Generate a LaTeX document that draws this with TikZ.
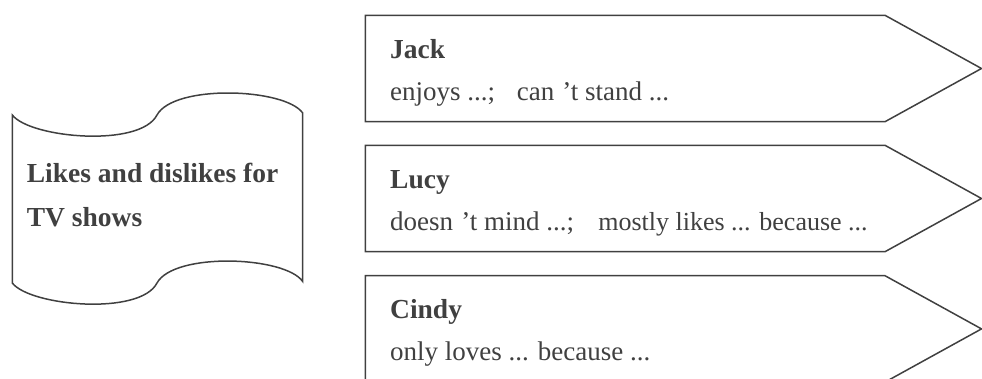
\documentclass[tikz,border=0pt]{standalone}
\usepackage{fontspec}
\setmainfont{Liberation Serif}
\definecolor{ink}{RGB}{64,64,64}
\begin{document}
\begin{tikzpicture}[x=1pt,y=-1pt,
  outline/.style={draw=ink,line width=1.5pt,line join=miter},
  head/.style={anchor=base west,inner sep=0pt,text=ink,font=\fontsize{27.5}{44}\selectfont\bfseries},
  body/.style={anchor=base west,inner sep=0pt,text=ink,font=\fontsize{27}{44}\selectfont}]
\useasboundingbox (0,0) rectangle (982,378);
\clip (0,0) rectangle (982,378);
% scroll shape
\draw[outline] (12.3,115) .. controls (30,138) and (140,148) .. (157,115)
  .. controls (174,84) and (285,88) .. (302.7,113) -- (302.7,281.5)
  .. controls (285,256) and (174,252) .. (157,283)
  .. controls (140,316) and (30,306) .. (12.3,283) -- cycle;
\node[head] (title1) at (26.7,182.7) {Likes and dislikes for};
\node[head] (title2) at (26.7,226.7) {TV shows};
% Jack
\draw[outline] (365.3,15.3) -- (885,15.3) -- (981.5,68.5) -- (885,121.7) -- (365.3,121.7) -- cycle;
\node[head] (jack) at (390,58) {Jack};
\node[body] (jacktext) at (390,100) {enjoys ...;\hspace{0.8em}can\hspace{0.3em}’t stand ...};
% Lucy
\draw[outline] (365.3,145.3) -- (885,145.3) -- (981.5,198.5) -- (885,251.7) -- (365.3,251.7) -- cycle;
\node[head] (lucy) at (390,188) {Lucy};
\node[body] (lucytext) at (390,230) {doesn\hspace{0.3em}’t mind ...;\hspace{0.9em}{\fontsize{26}{44}\selectfont mostly likes ... because ...}};
% Cindy
\draw[outline] (365.3,275.7) -- (885,275.7) -- (981.5,328.9) -- (885,382.1) -- (365.3,382.1) -- cycle;
\node[head] (cindy) at (390,318.5) {Cindy};
\node[body] (cindytext) at (390,360.5) {only loves ... because ...};
\end{tikzpicture}
\end{document}
